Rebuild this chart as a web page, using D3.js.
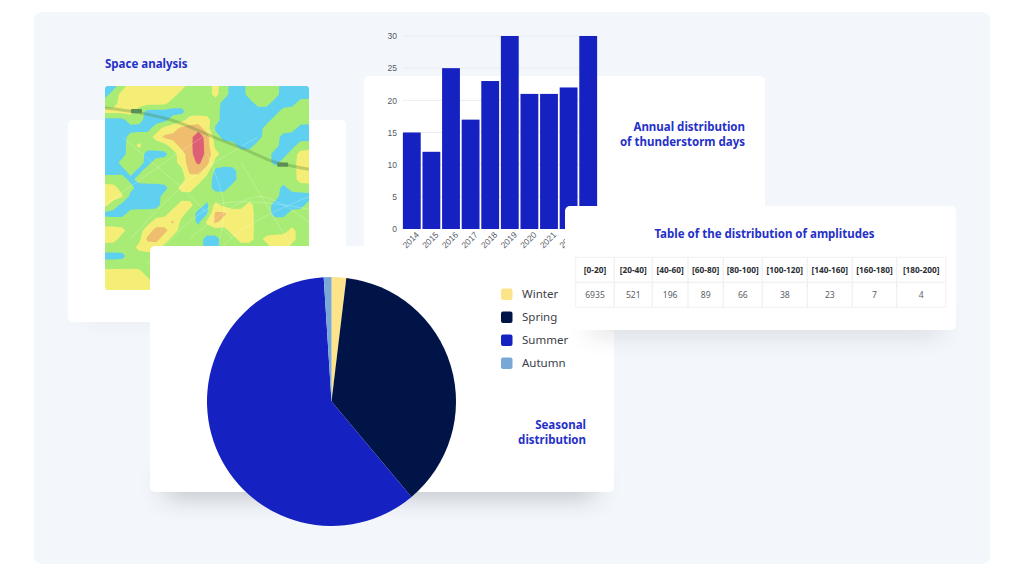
<!DOCTYPE html>
<html>
<head>
<meta charset="utf-8">
<script src="https://cdn.jsdelivr.net/npm/d3@7"></script>
<style>
  html, body { margin: 0; background: #fff; }
  svg { display: block; font-family: "Noto Sans", sans-serif; }
  .title { font-weight: 700; font-size: 11.5px; fill: #2530c8; }
  .axis text { font-size: 8.5px; fill: #555b66; }
  .axis path { display: none; }
  .legend text { font-size: 11.5px; fill: #3c4048; }
</style>
</head>
<body>
<svg id="chart" width="1024" height="576"></svg>
<script>
  // bar chart
  const years = [2014, 2015, 2016, 2017, 2018, 2019, 2020, 2021, 2022, 2023];
  const stormDays = [15, 12, 25, 17, 23, 30, 21, 21, 22, 30];
  const dayTicks = [0, 5, 10, 15, 20, 25, 30];

  // pie chart
  const seasons = ["Winter", "Spring", "Summer", "Autumn"];
  const seasonShare = [1.9, 37, 60.1, 1];
  const seasonColors = ["#fde48a", "#001447", "#1521c0", "#7aa8d6"];

  // table
  const ampBins = ["[0-20]", "[20-40]", "[40-60]", "[60-80]", "[80-100]", "[100-120]", "[140-160]", "[160-180]", "[180-200]"];
  const ampCounts = [6935, 521, 196, 89, 66, 38, 23, 7, 4];

  // heat levels on a 25x25 grid (1 blue .. 6 red)
  const heatGrid = [
    [1,1,2,3,3,3,3,3,3,3,2,2,2,3,2,1,1,2,2,2,2,1,1,1,1],
    [1,2,3,3,3,3,3,3,3,2,2,2,2,3,2,1,1,2,2,2,2,1,1,1,1],
    [2,2,3,3,3,3,3,3,2,2,2,2,2,2,1,1,1,1,2,2,1,1,1,2,2],
    [3,3,3,3,2,1,1,1,1,1,2,2,2,2,1,1,1,1,1,1,1,2,2,2,2],
    [1,1,1,2,2,1,1,1,2,2,3,3,3,2,1,1,1,1,1,1,2,2,2,2,2],
    [1,1,1,1,1,1,2,3,3,4,4,4,3,1,1,1,1,1,1,2,2,2,2,1,1],
    [1,1,1,2,2,2,3,4,4,4,4,6,4,2,1,1,1,1,1,2,2,1,1,1,1],
    [1,1,1,2,3,2,2,2,3,4,4,6,4,2,2,2,1,1,2,2,2,1,1,2,2],
    [1,1,1,2,2,1,1,1,2,3,4,6,4,3,2,2,2,2,2,2,1,1,2,3,3],
    [1,1,2,2,2,1,2,2,2,3,4,5,4,2,2,2,2,2,2,2,1,2,2,3,3],
    [1,1,1,2,1,2,2,2,2,2,4,4,3,1,1,1,2,2,2,2,2,2,2,3,3],
    [2,2,2,1,2,2,2,2,2,2,3,3,2,1,1,1,2,2,2,2,2,2,2,3,3],
    [3,3,2,2,1,1,1,1,2,3,3,2,2,1,1,2,2,2,2,2,2,1,2,2,2],
    [3,3,3,1,1,1,1,2,2,2,2,2,2,2,2,2,2,2,2,2,2,1,1,1,1],
    [3,2,1,1,1,1,1,2,2,3,3,2,1,3,2,2,2,3,2,2,1,1,1,1,2],
    [1,1,1,2,2,2,2,2,3,3,2,1,1,4,4,3,3,3,2,2,1,1,2,2,2],
    [2,2,2,2,2,2,3,3,4,2,2,1,3,4,3,3,3,3,2,2,2,2,2,2,2],
    [3,3,3,2,2,3,4,4,3,2,2,2,2,2,2,3,3,3,2,2,2,2,3,2,2],
    [3,3,2,2,2,4,4,3,2,2,2,2,1,1,2,2,3,3,2,3,3,3,3,2,2],
    [2,2,2,2,3,3,3,2,2,2,2,2,1,1,2,2,2,2,2,2,3,3,2,2,2],
    [1,1,1,2,2,2,2,2,2,2,2,2,2,2,2,2,2,2,2,2,2,2,2,2,2],
    [2,2,2,2,2,2,2,2,2,2,2,2,2,2,2,2,2,2,2,2,2,2,2,2,2],
    [3,3,3,3,3,2,2,2,2,2,2,2,2,2,2,2,2,2,2,2,2,2,2,2,2],
    [3,3,3,3,3,3,2,2,2,2,2,2,2,2,2,2,2,2,2,2,2,2,2,2,2],
    [3,3,3,3,3,3,2,2,2,2,2,2,2,2,2,2,2,2,2,2,2,2,2,2,2]
  ];
  const heatLevels = [1.5, 2.5, 3.5, 4.6];
  const heatColors = ["#a9ec74", "#f4ee76", "#efbd6e", "#dd5f74"];
  const heatBase = "#5fd0ef";

  // roads in grid units
  const highway = [[0, 2.6], [3.8, 3.1], [8.4, 4.2], [12.3, 5.8], [16.3, 7.4], [19.8, 8.9], [21.4, 9.3], [24, 9.8]];
  const streets = [
    [[0, 14], [7, 9], [13, 5]],
    [[3, 18], [10, 11], [18, 6]],
    [[5, 21], [13, 14], [24, 14.5]],
    [[10, 18], [18, 13], [24, 16]],
    [[9, 24], [16, 17], [24, 13]],
    [[2, 6], [9, 12], [15, 18]],
    [[12, 8], [14, 14], [13, 20]],
    [[16, 9], [19, 14], [22, 19]]
  ];
  const shields = [[3.7, 2.95], [20.9, 9.25]];

  const svg = d3.select("#chart");
  const defs = svg.append("defs");

  defs.append("filter").attr("id", "soft")
    .append("feGaussianBlur").attr("stdDeviation", 0.5);
  defs.append("filter").attr("id", "blur")
    .attr("x", "-30%").attr("y", "-300%").attr("width", "160%").attr("height", "700%")
    .append("feGaussianBlur").attr("stdDeviation", 13);

  function shadow(x, y, w, h, opacity) {
    svg.append("rect")
      .attr("x", x).attr("y", y).attr("width", w).attr("height", h)
      .attr("fill", "#2a2d38").attr("opacity", opacity)
      .attr("filter", "url(#blur)");
  }

  function card(x, y, w, h) {
    return svg.append("rect")
      .attr("x", x).attr("y", y).attr("width", w).attr("height", h)
      .attr("rx", 5).attr("fill", "#fff");
  }

  function titleLines(lines, x, y, anchor) {
    const t = svg.append("text").attr("class", "title").attr("text-anchor", anchor);
    lines.forEach((line, i) => {
      t.append("tspan").attr("x", x).attr("y", y + i * 15).text(line);
    });
  }

  // a little neighbour averaging so the bands lose the stair steps of the grid
  function softenGrid(grid, amount) {
    const n = grid.length;
    const at = (r, c) => grid[Math.max(0, Math.min(n - 1, r))][Math.max(0, Math.min(n - 1, c))];
    return grid.flatMap((row, r) => row.map((v, c) => {
      const around = (at(r - 1, c) + at(r + 1, c) + at(r, c - 1) + at(r, c + 1)) / 4;
      return v * (1 - amount) + around * amount;
    }));
  }

  // backdrop
  svg.append("rect")
    .attr("x", 34).attr("y", 12).attr("width", 956).attr("height", 552)
    .attr("rx", 8).attr("fill", "#f3f6fb");

  // map card and bar card
  shadow(90, 302, 240, 16, 0.08);
  card(68, 120, 278, 202);
  card(364, 76, 401, 240);

  titleLines(["Space analysis"], 105, 68, "start");

  // heat map
  const mapBox = { x: 105, y: 86, size: 204 };
  defs.append("clipPath").attr("id", "mapClip").append("rect")
    .attr("x", mapBox.x).attr("y", mapBox.y)
    .attr("width", mapBox.size).attr("height", mapBox.size).attr("rx", 3);

  const mapX = d3.scaleLinear().domain([0, 24]).range([mapBox.x, mapBox.x + mapBox.size]);
  const mapY = d3.scaleLinear().domain([0, 24]).range([mapBox.y, mapBox.y + mapBox.size]);

  const gMap = svg.append("g").attr("clip-path", "url(#mapClip)");
  const gHeat = gMap.append("g").attr("filter", "url(#soft)");
  gHeat.append("rect")
    .attr("x", mapBox.x - 4).attr("y", mapBox.y - 4)
    .attr("width", mapBox.size + 8).attr("height", mapBox.size + 8)
    .attr("fill", heatBase);

  // contour space has node centres at +0.5
  const contourPath = d3.geoPath(d3.geoTransform({
    point(x, y) { this.stream.point(mapX(x - 0.5), mapY(y - 0.5)); }
  }));
  const contours = d3.contours().size([25, 25]).thresholds(heatLevels)(softenGrid(heatGrid, 0.3));
  gHeat.selectAll("path.heat")
    .data(contours)
    .join("path")
    .attr("class", "heat")
    .attr("d", contourPath)
    .attr("fill", (d, i) => heatColors[i]);

  const roadLine = d3.line().x((d) => mapX(d[0])).y((d) => mapY(d[1])).curve(d3.curveCatmullRom);
  gHeat.selectAll("path.street")
    .data(streets)
    .join("path")
    .attr("class", "street")
    .attr("d", roadLine)
    .attr("fill", "none")
    .attr("stroke", "#fff")
    .attr("stroke-opacity", 0.22)
    .attr("stroke-width", 1);
  gHeat.append("path")
    .datum(highway)
    .attr("d", roadLine)
    .attr("fill", "none")
    .attr("stroke", "#4d7a3a")
    .attr("stroke-opacity", 0.3)
    .attr("stroke-width", 3);
  gHeat.selectAll("rect.shield")
    .data(shields)
    .join("rect")
    .attr("class", "shield")
    .attr("x", (d) => mapX(d[0]) - 5.5).attr("y", (d) => mapY(d[1]) - 2.2)
    .attr("width", 11).attr("height", 4.4).attr("rx", 1)
    .attr("fill", "#5c8f55");

  // pie card
  shadow(165, 476, 430, 18, 0.36);
  card(150, 246, 464, 246);

  const pieData = d3.pie().sort(null)(seasonShare);
  const arc = d3.arc().innerRadius(0).outerRadius(124.5);
  svg.append("g")
    .attr("transform", "translate(331.5,401.5)")
    .selectAll("path")
    .data(pieData)
    .join("path")
    .attr("d", arc)
    .attr("fill", (d, i) => seasonColors[i]);

  const legendY = d3.scalePoint().domain(seasons).range([294, 363]);
  const legend = svg.append("g").attr("class", "legend")
    .selectAll("g")
    .data(seasons)
    .join("g")
    .attr("transform", (d) => `translate(501,${legendY(d)})`);
  legend.append("rect")
    .attr("y", -5.5).attr("width", 11.5).attr("height", 11.5).attr("rx", 2)
    .attr("fill", (d, i) => seasonColors[i]);
  legend.append("text")
    .attr("x", 21).attr("y", 4.4)
    .text((d) => d);

  titleLines(["Seasonal", "distribution"], 586, 429, "end");

  // bars
  const x = d3.scaleBand().domain(years).range([402, 598]).paddingInner(0.09).paddingOuter(0.045);
  const y = d3.scaleLinear().domain([0, 30]).range([229, 36]);

  svg.append("g").selectAll("line")
    .data(dayTicks.filter((d) => d > 0))
    .join("line")
    .attr("x1", 403).attr("x2", 598)
    .attr("y1", (d) => y(d)).attr("y2", (d) => y(d))
    .attr("stroke", "#e9ecf3");

  svg.append("g")
    .attr("class", "axis")
    .attr("transform", "translate(402,0)")
    .call(d3.axisLeft(y).tickValues(dayTicks).tickSize(0).tickPadding(5));

  svg.append("g")
    .attr("class", "axis")
    .attr("transform", "translate(0,229)")
    .call(d3.axisBottom(x).tickSize(0))
    .selectAll("text")
    .attr("text-anchor", "end")
    .attr("x", 1)
    .attr("y", 7)
    .attr("dy", "0.35em")
    .attr("transform", "rotate(-45)");

  svg.append("g").selectAll("rect")
    .data(years)
    .join("rect")
    .attr("x", (d) => x(d))
    .attr("y", (d, i) => y(stormDays[i]))
    .attr("width", x.bandwidth())
    .attr("height", (d, i) => y(0) - y(stormDays[i]))
    .attr("fill", "#1521c0");

  titleLines(["Annual distribution", "of thunderstorm days"], 745, 130.5, "end");

  // table card
  shadow(590, 318, 350, 12, 0.26);
  card(565, 206, 391, 124);
  titleLines(["Table of the distribution of amplitudes"], 764.5, 237.5, "middle");

  const colWidths = [38.6, 38, 35.7, 35.3, 39, 45, 45, 44.4, 49];
  const tableX = 575.7;
  const rowTop = 257.3;
  const rowH = 25;
  const colEdges = Array.from(d3.cumsum(colWidths), (d) => tableX + d);
  const colLeft = (i) => (i === 0 ? tableX : colEdges[i - 1]);

  svg.append("g").selectAll("g.col")
    .data(ampBins)
    .join("g")
    .attr("class", "col")
    .each(function (bin, i) {
      const g = d3.select(this);
      [0, 1].forEach((row) => {
        g.append("rect")
          .attr("x", colLeft(i)).attr("y", rowTop + row * rowH)
          .attr("width", colWidths[i]).attr("height", rowH)
          .attr("fill", "none").attr("stroke", "#f0f1f4");
      });
      g.append("text")
        .attr("x", colLeft(i) + colWidths[i] / 2).attr("y", rowTop + 15.7)
        .attr("text-anchor", "middle")
        .attr("font-size", 8.3).attr("font-weight", 700).attr("fill", "#2a2d33")
        .text(bin);
      g.append("text")
        .attr("x", colLeft(i) + colWidths[i] / 2).attr("y", rowTop + rowH + 15.7)
        .attr("text-anchor", "middle")
        .attr("font-size", 8.6).attr("fill", "#5a5e66")
        .text(ampCounts[i]);
    });
</script>
</body>
</html>
